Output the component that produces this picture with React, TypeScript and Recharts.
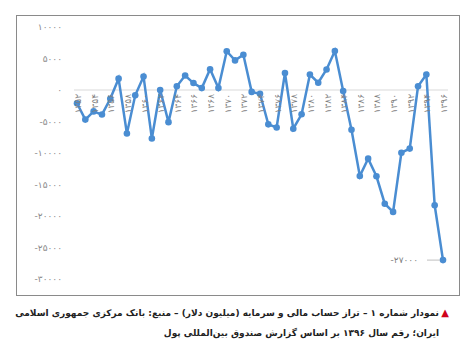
import React from 'react';
import { LineChart, Line, XAxis, YAxis, ReferenceLine, LabelList } from 'recharts';

const years = [
  1352, 1353, 1354, 1355, 1356, 1357, 1358, 1359, 1360, 1361, 1362, 1363, 1364, 1365, 1366,
  1367, 1368, 1369, 1370, 1371, 1372, 1373, 1374, 1375, 1376, 1377, 1378, 1379, 1380, 1381,
  1382, 1383, 1384, 1385, 1386, 1387, 1388, 1389, 1390, 1391, 1392, 1393, 1394, 1395, 1396,
];

const balance = [
  -2100, -4700, -3400, -3900, -1400, 1800, -6900, -850, 2150, -7700, 0, -5100, 600, 2300, 1100,
  300, 3300, 300, 6150, 4700, 5600, -300, -600, -5450, -5950, 2700, -6150, -3850, 2450, 1150,
  3250, 6200, -150, -6300, -13650, -10900, -13700, -18050, -19350, -9950, -9300, 600, 2450, -18300, -27000,
];

const yTicks = [10000, 5000, 0, -5000, -10000, -15000, -20000, -25000, -30000];

const titleLine1 = 'نمودار شماره ۱ – تراز حساب مالی و سرمایه (میلیون دلار) – منبع: بانک مرکزی جمهوری اسلامی';
const titleLine2 = 'ایران؛ رقم سال ۱۳۹۶ بر اساس گزارش صندوق بین‌المللی پول';

const faDigits = '۰۱۲۳۴۵۶۷۸۹';
const toFa = (n: number | string) => String(n).replace(/\d/g, (d) => faDigits[Number(d)]);

const data = years.map((y, i) => ({ year: y, value: balance[i] }));

const LINE_COLOR = '#4a8dd2';
const FONT = '"DejaVu Sans", sans-serif';

const YearLabel = (props: any) => {
  const { x, y, value, index } = props;
  if (index % 2 !== 0) return null;
  return (
    <text
      transform={`translate(${x + 4},${y + 4}) rotate(-90)`}
      textAnchor="end"
      fontSize={9}
      fill="#808080"
      fontFamily={FONT}
      direction="ltr"
    >
      {toFa(value)}
    </text>
  );
};

const LastLabel = (props: any) => {
  const { x, y, value, index } = props;
  if (index !== data.length - 1) return null;
  return (
    <g>
      <line x1={x - 16} y1={y} x2={x - 3} y2={y} stroke="#bfbfbf" strokeWidth={1} />
      <text
        x={x - 25}
        y={y}
        dy="0.35em"
        textAnchor="end"
        fontSize={9}
        fill="#7f7f7f"
        fontFamily={FONT}
        direction="ltr"
      >
        {toFa(value)}
      </text>
    </g>
  );
};

const YTick = (props: any) => {
  const { x, y, payload } = props;
  return (
    <text x={x + 2} y={y} dy="0.35em" textAnchor="end" fontSize={9} fill="#8a8a8a" fontFamily={FONT} direction="ltr">
      {toFa(payload.value)}
    </text>
  );
};

export default function App() {
  return (
    <div style={{ position: 'relative', width: 458, height: 338 }}>
      <div
        style={{
          position: 'absolute',
          left: 8,
          top: 7,
          width: 444,
          height: 281,
          boxSizing: 'border-box',
          border: '1px solid #8a8a8a',
          background: '#fff',
        }}
      >
        <LineChart width={442} height={279} data={data} margin={{ top: 11, right: 11, bottom: 16, left: 0 }}>
          <XAxis dataKey="year" hide padding={{ left: 3, right: 5 }} />
          <YAxis
            width={57}
            domain={[-30000, 10000]}
            ticks={yTicks}
            axisLine={false}
            tickLine={false}
            tickSize={0}
            tickMargin={14}
            tick={<YTick />}
            interval={0}
          />
          <ReferenceLine y={0} stroke="#d9d9d9" strokeWidth={1} />
          <Line
            dataKey={() => 0}
            stroke="none"
            dot={false}
            activeDot={false}
            isAnimationActive={false}
            legendType="none"
          >
            <LabelList dataKey="year" content={<YearLabel />} />
          </Line>
          <Line
            dataKey="value"
            stroke={LINE_COLOR}
            strokeWidth={2.5}
            dot={{ r: 3.3, fill: LINE_COLOR, stroke: LINE_COLOR, strokeWidth: 0 }}
            activeDot={false}
            isAnimationActive={false}
          >
            <LabelList dataKey="value" content={<LastLabel />} />
          </Line>
        </LineChart>
      </div>
      <div
        dir="rtl"
        style={{
          position: 'absolute',
          top: 295,
          right: 27,
          fontFamily: FONT,
          fontSize: 9,
          fontWeight: 'bold',
          color: '#222',
          lineHeight: '20px',
          textAlign: 'right',
          whiteSpace: 'nowrap',
        }}
      >
        <div>{titleLine1}</div>
        <div>{titleLine2}</div>
      </div>
      <div
        style={{
          position: 'absolute',
          top: 295,
          right: 17,
          fontFamily: FONT,
          fontSize: 10,
          color: '#d0021b',
          lineHeight: '20px',
        }}
      >
        ▲
      </div>
    </div>
  );
}
